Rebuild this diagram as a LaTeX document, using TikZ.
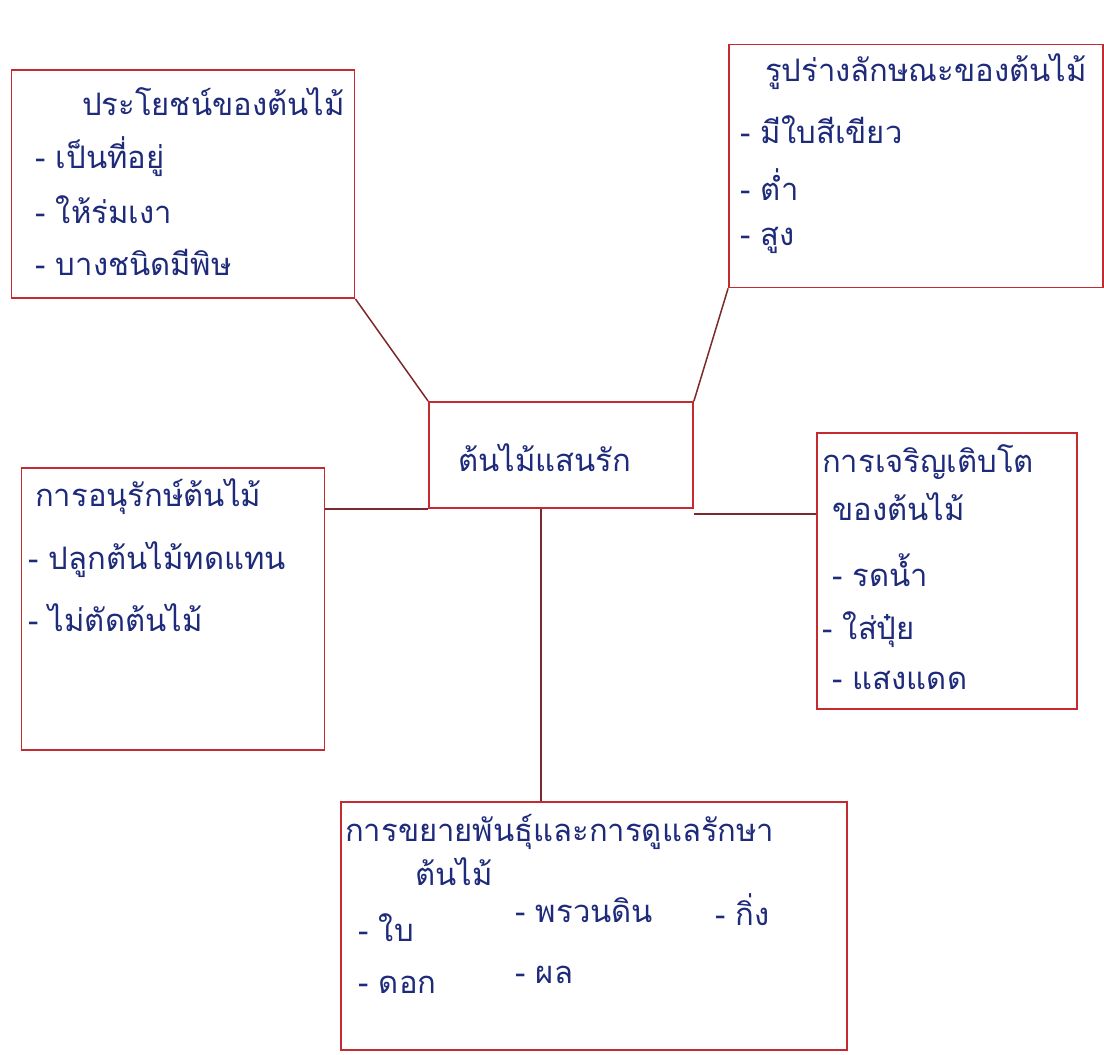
\documentclass[tikz,border=0pt]{standalone}
\usepackage{fontspec}
\newfontfamily\thaifont[Script=Thai]{Loma}
\definecolor{boxred}{HTML}{C42A30}
\definecolor{linedark}{HTML}{7A2A2A}
\definecolor{ink}{HTML}{1E2A7A}
\begin{document}
\begin{tikzpicture}[x=1pt,y=-1pt,
  mapbox/.style={draw=boxred,line width=1.8pt,inner sep=0pt},
  txt/.style={anchor=west,inner sep=0pt,text=ink,font=\thaifont\fontsize{31}{35}\selectfont},
  link/.style={draw=linedark,line width=1.5pt}]
\useasboundingbox (0,0) rectangle (1104,1055);
% boxes
\node[mapbox,minimum width=343pt,minimum height=228pt] (tl) at (183,184) {};
\node[mapbox,minimum width=374pt,minimum height=243pt] (tr) at (916,166) {};
\node[mapbox,minimum width=264pt,minimum height=106pt] (c) at (561,455) {};
\node[mapbox,minimum width=303pt,minimum height=282pt] (lm) at (173,609) {};
\node[mapbox,minimum width=260pt,minimum height=276pt] (rm) at (947,571) {};
\node[mapbox,minimum width=506pt,minimum height=248pt] (b) at (594,926) {};
% connectors
\draw[link] (tl.south east) -- (c.north west);
\draw[link] (tr.south west) -- (c.north east);
\draw[link] (c.south west) -- (c.south west -| lm.east);
\draw[link] ([yshift=-5pt]c.south east) -- ([yshift=-5pt]c.south east -| rm.west);
\draw[link] ([xshift=-20pt]c.south) -- ([xshift=-20pt]c.south |- b.north);
% centre
\node[txt] (ct) at (458,458) {ต้นไม้แสนรัก};
% top left
\node[txt] (tl0) at (82,102) {ประโยชน์ของต้นไม้};
\node[txt] (tl1) at (35,157) {- เป็นที่อยู่};
\node[txt] (tl2) at (35,210) {- ให้ร่มเงา};
\node[txt] (tl3) at (35,262) {- บางชนิดมีพิษ};
% top right
\node[txt] (tr0) at (765,72) {รูปร่างลักษณะของต้นไม้};
\node[txt] (tr1) at (740,130) {- มีใบสีเขียว};
\node[txt] (tr2) at (740,185) {- ต่ำ};
\node[txt] (tr3) at (740,240) {- สูง};
% left middle
\node[txt] (lm0) at (35,497) {การอนุรักษ์ต้นไม้};
\node[txt] (lm1) at (28,560) {- ปลูกต้นไม้ทดแทน};
\node[txt] (lm2) at (28,618) {- ไม่ตัดต้นไม้};
% right middle
\node[txt] (rm0) at (822,462) {การเจริญเติบโต};
\node[txt] (rm1) at (832,507) {ของต้นไม้};
\node[txt] (rm2) at (832,570) {- รดน้ำ};
\node[txt] (rm3) at (822,630) {- ใส่ปุ๋ย};
\node[txt] (rm4) at (832,680) {- แสงแดด};
% bottom
\node[txt] (b0) at (345,832) {การขยายพันธุ์และการดูแลรักษา};
\node[txt] (b1) at (415,872) {ต้นไม้};
\node[txt] (b2) at (358,928) {- ใบ};
\node[txt] (b3) at (515,910) {- พรวนดิน};
\node[txt] (b4) at (715,910) {- กิ่ง};
\node[txt] (b5) at (358,985) {- ดอก};
\node[txt] (b6) at (515,975) {- ผล};
\end{tikzpicture}
\end{document}
